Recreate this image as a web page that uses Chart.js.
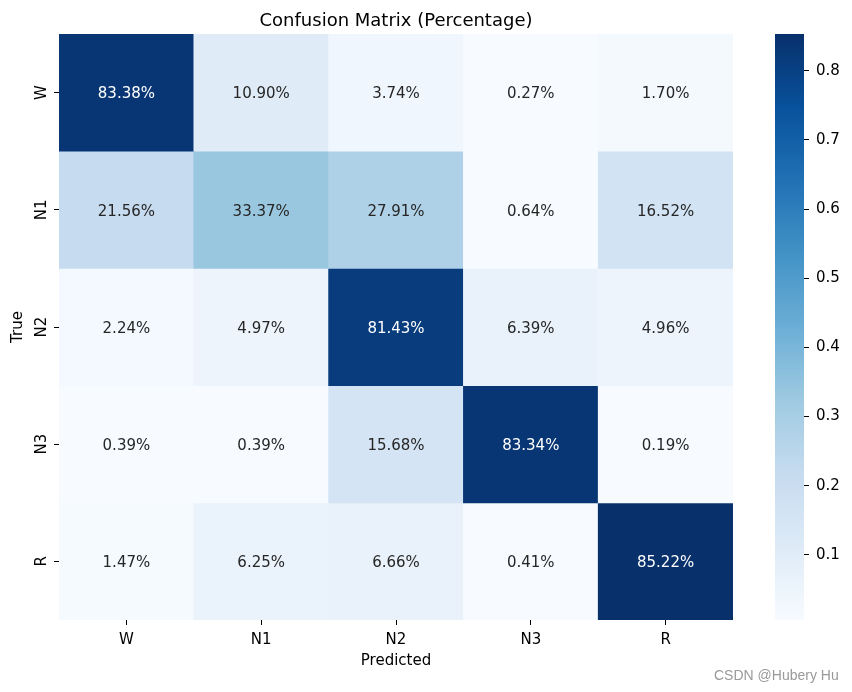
<!DOCTYPE html>
<html>
<head>
<meta charset="utf-8">
<script src="https://cdn.jsdelivr.net/npm/chart.js@4/dist/chart.umd.min.js"></script>
<style>
  html, body { margin: 0; padding: 0; background: #ffffff; }
  body { width: 852px; height: 692px; overflow: hidden; position: relative; }
  #main { position: absolute; left: 0; top: 0; }
  #cbar { position: absolute; left: 733px; top: 0; }
  #wm { position: absolute; left: 714px; top: 668px; font: 14px/14px "Liberation Sans", Arial, sans-serif; color: #999999; white-space: nowrap; }
</style>
</head>
<body>
<canvas id="main" width="760" height="692"></canvas>
<canvas id="cbar" width="119" height="692"></canvas>
<div id="wm">CSDN @Hubery Hu</div>
<script>
// ---- data ----
const titleText = 'Confusion Matrix (Percentage)';
const predictedLabels = ['W', 'N1', 'N2', 'N3', 'R'];
const trueLabels = ['W', 'N1', 'N2', 'N3', 'R'];
const pctW  = [83.38, 10.90, 3.74, 0.27, 1.70];
const pctN1 = [21.56, 33.37, 27.91, 0.64, 16.52];
const pctN2 = [2.24, 4.97, 81.43, 6.39, 4.96];
const pctN3 = [0.39, 0.39, 15.68, 83.34, 0.19];
const pctR  = [1.47, 6.25, 6.66, 0.41, 85.22];
const colorbarTicks = [0.1, 0.2, 0.3, 0.4, 0.5, 0.6, 0.7, 0.8];
const colorMin = 0.006;
const colorMax = 0.853;

const rows = [pctW, pctN1, pctN2, pctN3, pctR];
const bluesStops = ['#f7fbff', '#deebf7', '#c6dbef', '#9ecae1', '#6baed6', '#4292c6', '#2171b5', '#08519c', '#08306b'];
const FONT = '"DejaVu Sans"';

function hexToRgb(h) { return [parseInt(h.slice(1, 3), 16), parseInt(h.slice(3, 5), 16), parseInt(h.slice(5, 7), 16)]; }
function blues(t) {
  t = Math.min(1, Math.max(0, t));
  const n = bluesStops.length - 1;
  const f = t * n;
  const i = Math.min(n - 1, Math.floor(f));
  const u = f - i;
  const a = hexToRgb(bluesStops[i]), b = hexToRgb(bluesStops[i + 1]);
  return a.map((v, k) => Math.round(v + (b[k] - v) * u));
}
function norm(v) { return (v - colorMin) / (colorMax - colorMin); }
function css(c) { return 'rgb(' + c.join(',') + ')'; }
function luminance(c) {
  const l = c.map(v => { v = v / 255; return v <= 0.03928 ? v / 12.92 : Math.pow((v + 0.055) / 1.055, 2.4); });
  return 0.2126 * l[0] + 0.7152 * l[1] + 0.0722 * l[2];
}

const annotate = {
  id: 'annotate',
  afterDatasetsDraw(chart) {
    const { ctx, scales: { x, y }, chartArea } = chart;
    ctx.save();
    ctx.font = '15px ' + FONT;
    ctx.textAlign = 'center';
    ctx.textBaseline = 'middle';
    rows.forEach((row, r) => row.forEach((v, c) => {
      const col = blues(norm(v / 100));
      ctx.fillStyle = luminance(col) < 0.408 ? '#ffffff' : '#262626';
      ctx.fillText(v.toFixed(2) + '%', x.getPixelForValue(c), y.getPixelForValue(r + 0.5) + 2);
    }));
    ctx.font = '18px ' + FONT;
    ctx.fillStyle = '#000000';
    ctx.textBaseline = 'alphabetic';
    ctx.fillText(titleText, (chartArea.left + chartArea.right) / 2, 26);
    ctx.restore();
  }
};

const datasets = rows.map((row, r) => ({
  label: trueLabels[r],
  data: predictedLabels.map(() => [r, r + 1]),
  backgroundColor: row.map(v => css(blues(norm(v / 100)))),
  borderWidth: 0,
  grouped: false,
  barPercentage: 1,
  categoryPercentage: 1
}));

new Chart(document.getElementById('main'), {
  type: 'bar',
  data: { labels: predictedLabels, datasets },
  plugins: [annotate],
  options: {
    responsive: false,
    animation: false,
    layout: { padding: { left: 0, top: 34, right: 27, bottom: 0 } },
    plugins: { legend: { display: false }, tooltip: { enabled: false }, title: { display: false } },
    scales: {
      x: {
        type: 'category',
        offset: true,
        border: { display: false },
        grid: { offset: false, drawOnChartArea: false, drawTicks: true, tickLength: 5, tickColor: '#000000', tickWidth: 1 },
        ticks: { font: { family: FONT, size: 15 }, color: '#000000', padding: 6, maxRotation: 0, minRotation: 0 },
        title: { display: true, text: 'Predicted', font: { family: FONT, size: 15 }, color: '#000000', padding: { top: 0, bottom: 22 } },
        afterFit(s) { s.height = 72; }
      },
      y: {
        type: 'linear',
        min: 0,
        max: 5,
        reverse: true,
        border: { display: false },
        afterBuildTicks(s) { s.ticks = trueLabels.map((_, i) => ({ value: i + 0.5 })); },
        grid: { drawOnChartArea: false, drawTicks: true, tickLength: 5, tickColor: '#000000', tickWidth: 1 },
        ticks: { callback: (v, i) => trueLabels[i], minRotation: 90, maxRotation: 90, crossAlign: 'center', padding: 2, font: { family: FONT, size: 15 }, color: '#000000' },
        title: { display: true, text: 'True', font: { family: FONT, size: 15 }, color: '#000000', padding: { top: 9, bottom: 0 } },
        afterFit(s) { s.width = 59; }
      }
    }
  }
});

new Chart(document.getElementById('cbar'), {
  type: 'bar',
  data: {
    labels: ['colorbar'],
    datasets: [{
      data: [[colorMin, colorMax]],
      borderWidth: 0,
      barPercentage: 1,
      categoryPercentage: 1,
      backgroundColor(ctx) {
        const chart = ctx.chart;
        if (!chart.chartArea) return bluesStops[0];
        const y = chart.scales.y;
        const g = chart.ctx.createLinearGradient(0, y.getPixelForValue(colorMin), 0, y.getPixelForValue(colorMax));
        bluesStops.forEach((c, i) => g.addColorStop(i / (bluesStops.length - 1), c));
        return g;
      }
    }]
  },
  options: {
    responsive: false,
    animation: false,
    layout: { padding: { left: 42, top: 34, right: 0, bottom: 72 } },
    plugins: { legend: { display: false }, tooltip: { enabled: false } },
    scales: {
      x: { display: false },
      y: {
        position: 'right',
        min: colorMin,
        max: colorMax,
        border: { display: false },
        afterBuildTicks(s) { s.ticks = colorbarTicks.map(v => ({ value: v })); },
        grid: { drawOnChartArea: false, drawTicks: true, tickLength: 5, tickColor: '#000000', tickWidth: 1 },
        ticks: { callback: v => v.toFixed(1), padding: 7, font: { family: FONT, size: 15 }, color: '#000000' },
        afterFit(s) { s.width = 48; }
      }
    }
  }
});
</script>
</body>
</html>
